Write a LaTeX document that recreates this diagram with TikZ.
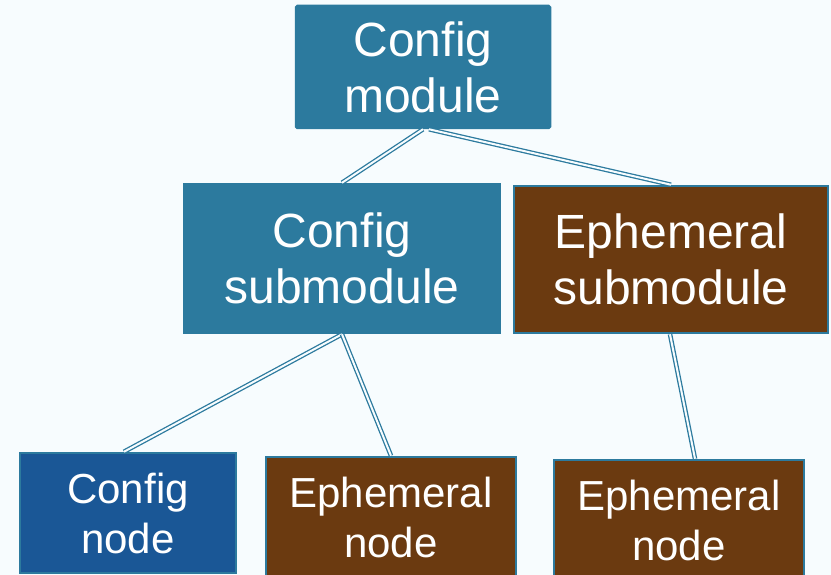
\documentclass[tikz,border=0pt]{standalone}
\usepackage{fontspec}
\setmainfont{Liberation Sans}
\definecolor{bgc}{HTML}{F7FCFE}
\definecolor{tealc}{HTML}{2C7A9E}
\definecolor{brownc}{HTML}{6B3A10}
\definecolor{bluec}{HTML}{1A5796}
\tikzset{
  box/.style={draw=tealc, line width=2.5pt, text=white, align=center, inner sep=0pt},
  tealbox/.style={box, fill=tealc},
  brownbox/.style={box, fill=brownc},
  bluebox/.style={box, fill=bluec},
  big/.style={font=\fontsize{48}{56}\selectfont},
  small/.style={font=\fontsize{42}{50}\selectfont},
  link/.style={draw=tealc, line width=1.3pt, double=bgc, double distance=2pt}
}
\begin{document}
\begin{tikzpicture}[x=1pt,y=-1pt]
\useasboundingbox (0,0) rectangle (831,575);
\fill[bgc] (0,0) rectangle (831,575);
\clip (0,0) rectangle (831,575);
\node[tealbox, big, minimum width=254pt, minimum height=122pt, rounded corners=1.5pt] (cm) at (423,67) {Config\\module};
\node[tealbox, big, minimum width=316pt, minimum height=149pt] (cs) at (342,258.5) {Config\\submodule};
\node[brownbox, big, minimum width=314pt, minimum height=147pt] (es) at (671,259.5) {Ephemeral\\submodule};
\node[bluebox, small, minimum width=216pt, minimum height=120pt] (cn) at (128,513) {Config\\node};
\node[brownbox, small, minimum width=250pt, minimum height=121pt] (en1) at (391,517.5) {Ephemeral\\node};
\node[brownbox, small, minimum width=250pt, minimum height=120pt] (en2) at (679,520) {Ephemeral\\node};
\draw[link] (cm.south) -- (cs.north);
\draw[link] ([xshift=6pt]cm.south) -- (es.north);
\draw[link] (cs.south) -- ([xshift=-4pt]cn.north);
\draw[link] (cs.south) -- (en1.north);
\draw[link] ([xshift=-1pt]es.south) -- ([xshift=16pt]en2.north);
\end{tikzpicture}
\end{document}
